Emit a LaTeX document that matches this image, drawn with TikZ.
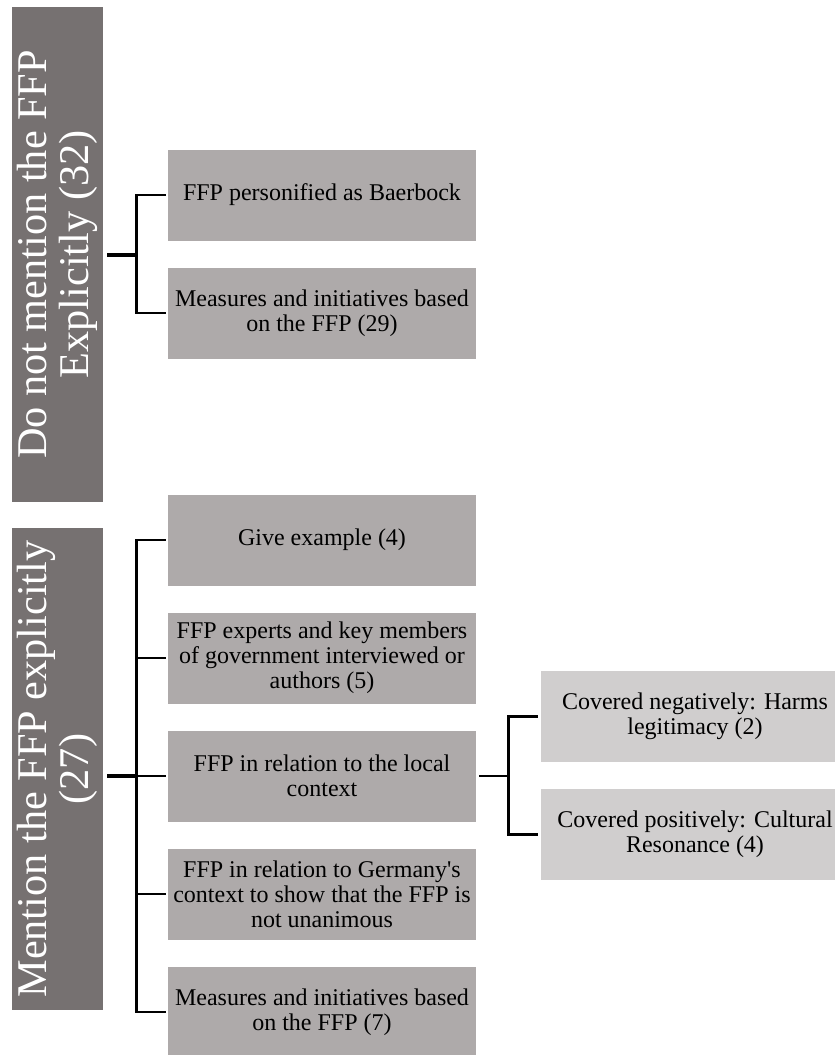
\documentclass[tikz,border=0pt]{standalone}
\usepackage{fontspec}
\setmainfont{Liberation Serif}
\definecolor{darkbox}{HTML}{767171}
\definecolor{midbox}{HTML}{AEAAAA}
\definecolor{lightbox}{HTML}{D0CECE}
\begin{document}
\begin{tikzpicture}[x=1pt,y=-1pt,
  cat/.style={fill=darkbox, draw=none, text=white, rotate=90, minimum height=91pt,
    inner sep=0pt, align=center, font=\fontsize{42.3}{41.5}\selectfont},
  sub/.style={fill=midbox, draw=none, minimum width=308pt, minimum height=91pt,
    inner sep=0pt, align=center, font=\fontsize{24}{25}\selectfont},
  subsub/.style={sub, fill=lightbox},
  conn/.style={line width=2.75pt, draw=black},
  stub/.style={line width=4pt, draw=black}]
\useasboundingbox (0,0) rectangle (835,1055);
\clip (0,0) rectangle (835,1055);
\fill[white] (0,0) rectangle (835,1055);

% category boxes
\node[cat, minimum width=495pt] (d1) at (57.5,254.5) {Do not mention the FFP\\Explicitly (32)};
\node[cat, minimum width=482pt] (d2) at (57.5,769) {Mention the FFP explicitly\\(27)};

% first group
\node[sub] (a1) at (322,195) {FFP personified as Baerbock};
\node[sub] (a2) at (322,313) {Measures and initiatives based\\on the FFP (29)};

% second group
\node[sub] (b1) at (322,540) {Give example (4)};
\node[sub] (b2) at (322,658) {FFP experts and key members\\of government interviewed or\\authors (5)};
\node[sub] (b3) at (322,776) {FFP in relation to the local\\context};
\node[sub] (b4) at (322,894) {FFP in relation to Germany\textquotesingle s\\context to show that the FFP is\\not unanimous};
\node[sub] (b5) at (322,1012) {Measures and initiatives based\\on the FFP (7)};

% third level
\node[subsub] (c1) at (695,716.5) {Covered negatively: Harms\\legitimacy (2)};
\node[subsub] (c2) at (695,834.5) {Covered positively: Cultural\\Resonance (4)};

% connectors group 1
\draw[stub] ([xshift=4pt]d1.south) -- ([xshift=33pt]d1.south) coordinate (j1);
\draw[conn] ([xshift=-2pt]a1.west) -| (j1) |- ([xshift=-2pt]a2.west);

% connectors group 2
\coordinate (s2) at (d2.south |- b3.west);
\draw[stub] ([xshift=4pt]s2) -- ([xshift=33pt]s2) coordinate (j2);
\draw[conn] ([xshift=-2pt]b1.west) -| (j2) |- ([xshift=-2pt]b5.west);
\draw[conn] ([xshift=-2pt]b2.west) -- (j2 |- b2.west);
\draw[conn] ([xshift=-2pt]b4.west) -- (j2 |- b4.west);
\draw[conn] (j2) -- ([xshift=-2pt]b3.west);

% connectors group 3
\draw[conn] ([xshift=3pt]b3.east) -- ([xshift=32pt]b3.east) coordinate (j3);
\draw[conn] ([xshift=-3pt]c1.west) -| (j3) |- ([xshift=-3pt]c2.west);
\end{tikzpicture}
\end{document}
